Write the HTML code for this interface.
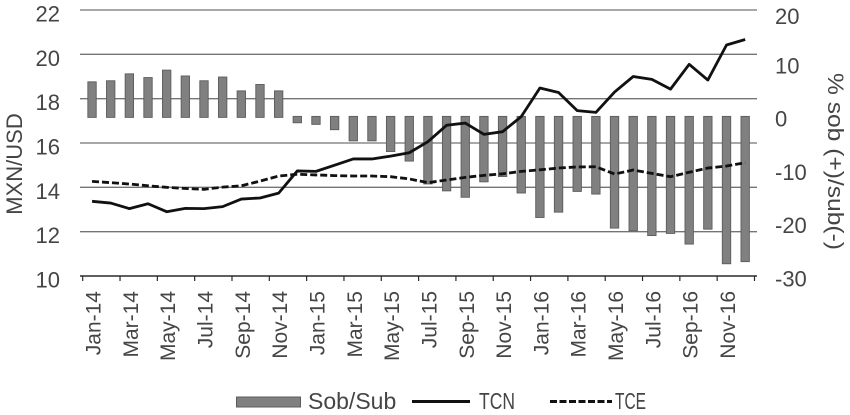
<!DOCTYPE html>
<html lang="en">
<head>
<meta charset="utf-8">
<title>MXN/USD chart</title>
<style>
  html, body { margin: 0; padding: 0; background: #fff; }
  #chart { display: block; width: 850px; height: 415px; }
  text { font-family: "Liberation Sans", sans-serif; fill: #454545; }
</style>
</head>
<body>
<svg id="chart" xmlns="http://www.w3.org/2000/svg" width="850" height="415" viewBox="0 0 850 415">
  <g id="grid"></g>
  <g id="bars"></g>
  <g id="axes"></g>
  <g id="lines"></g>
  <text font-size="22" text-anchor="middle" transform="translate(22,164) rotate(-90)">MXN/USD</text>
  <text font-size="22" textLength="177" lengthAdjust="spacingAndGlyphs" transform="translate(828,73) rotate(90)">% sob (+)/sub(-)</text>
  <g>
    <rect x="236.5" y="397" width="64" height="10" fill="#808080" stroke="#5c5c5c" stroke-width="1"></rect>
    <text x="308" y="409" font-size="23">Sob/Sub</text>
    <line x1="412" y1="401.5" x2="470" y2="401.5" stroke="#111" stroke-width="3"></line>
    <text x="479" y="409" font-size="23" textLength="36" lengthAdjust="spacingAndGlyphs">TCN</text>
    <line x1="550" y1="401.5" x2="612" y2="401.5" stroke="#111" stroke-width="3" stroke-dasharray="7 2.5"></line>
    <text x="615" y="409" font-size="23" textLength="31" lengthAdjust="spacingAndGlyphs">TCE</text>
  </g>
</svg>
<script>
const categories = ["Jan-14","Feb-14","Mar-14","Apr-14","May-14","Jun-14","Jul-14","Aug-14","Sep-14","Oct-14","Nov-14","Dec-14","Jan-15","Feb-15","Mar-15","Apr-15","May-15","Jun-15","Jul-15","Aug-15","Sep-15","Oct-15","Nov-15","Dec-15","Jan-16","Feb-16","Mar-16","Apr-16","May-16","Jun-16","Jul-16","Aug-16","Sep-16","Oct-16","Nov-16","Dec-16"];
const sobSub = [6.5,6.7,8.0,7.3,8.7,7.6,6.7,7.4,4.8,6.0,4.8,-1.2,-1.5,-2.5,-4.6,-4.6,-6.6,-8.4,-12.7,-14.0,-15.2,-12.3,-11.3,-14.4,-19.0,-18.0,-14.1,-14.6,-21.0,-21.5,-22.4,-22.0,-24.0,-21.2,-27.7,-27.3];
const tcn = [13.37,13.29,13.04,13.26,12.9,13.05,13.04,13.13,13.47,13.52,13.74,14.74,14.72,15.0,15.28,15.28,15.41,15.56,16.06,16.8,16.9,16.39,16.51,17.19,18.48,18.28,17.46,17.38,18.3,19.0,18.87,18.43,19.55,18.84,20.42,20.67];
const tce = [14.27,14.21,14.15,14.07,14.0,13.95,13.91,14.01,14.07,14.28,14.51,14.59,14.56,14.53,14.51,14.51,14.48,14.38,14.21,14.33,14.45,14.54,14.61,14.72,14.79,14.87,14.92,14.93,14.6,14.78,14.63,14.48,14.68,14.87,14.96,15.11];
const leftTicks = [22,20,18,16,14,12,10];
const rightTicks = [20,10,0,-10,-20,-30];

const NS = "http://www.w3.org/2000/svg";
const X0 = 82.7, X1 = 754.5, TOP = 10, BOTTOM = 276;
const step = (X1 - X0) / categories.length;

function xPos(i) { return X0 + step * (i + 0.5); }
function yLeft(v) { return BOTTOM - (v - 10) / 12 * (BOTTOM - TOP); }
function yRight(v) { return BOTTOM - (v + 30) / 50 * (BOTTOM - TOP); }

function make(tag, parent, attrs) {
  const el = document.createElementNS(NS, tag);
  Object.keys(attrs).forEach(function (k) { el.setAttribute(k, attrs[k]); });
  parent.appendChild(el);
  return el;
}

const grid = document.getElementById("grid");
const axes = document.getElementById("axes");
const barsG = document.getElementById("bars");
const linesG = document.getElementById("lines");

leftTicks.forEach(function (t) {
  if (t !== 10) {
    const g = make("line", grid, { x1: 80, x2: 757, y1: yLeft(t), y2: yLeft(t), stroke: "#747474", "stroke-width": 1.3 });
    
    
  }
  const lbl = make("text", axes, { x: 60, y: yLeft(t) + 11.5, "font-size": 22, "text-anchor": "end" });
  lbl.textContent = String(t);
  
  
});

rightTicks.forEach(function (t) {
  const lbl = make("text", axes, { x: 775, y: yRight(t) + (t === 20 ? 14 : 10.3), "font-size": 22 });
  lbl.textContent = String(t);
  
  
});

sobSub.forEach(function (v, i) {
  const y0 = yRight(0);
  const yv = yRight(v);
  const top = v >= 0 ? yv : y0;
  const bottom = v >= 0 ? y0 + 1 : yv;
  const r = make("rect", barsG, { x: xPos(i) - 4.2, y: top, width: 8.4, height: bottom - top, fill: "#808080", stroke: "#5c5c5c", "stroke-width": 0.9 });
  
  
});

const axisLine = make("line", axes, { x1: 80, x2: 757, y1: BOTTOM, y2: BOTTOM, stroke: "#2a2a2a", "stroke-width": 1.5 });



for (let i = 0; i <= categories.length; i += 2) {
  const tx = X0 + step * i;
  const tick = make("line", axes, { x1: tx, x2: tx, y1: BOTTOM, y2: BOTTOM + 5, stroke: "#2a2a2a", "stroke-width": 1.2 });
  
  
}

categories.forEach(function (c, i) {
  if (i % 2 !== 0) return;
  const lx = xPos(i) + 8.5;
  const lbl = make("text", axes, { "font-size": 21, "text-anchor": "end", transform: "translate(" + lx + ",291) rotate(-90)" });
  lbl.textContent = c;
  
  
});

function linePoints(values) {
  return values.map(function (v, i) { return xPos(i).toFixed(2) + "," + yLeft(v).toFixed(2); }).join(" ");
}

const tceLine = make("polyline", linesG, { points: linePoints(tce), fill: "none", stroke: "#111", "stroke-width": 2.8, "stroke-dasharray": "7 3", "stroke-linejoin": "round" });



const tcnLine = make("polyline", linesG, { points: linePoints(tcn), fill: "none", stroke: "#111", "stroke-width": 2.8, "stroke-linejoin": "round" });


</script>
</body>
</html>
